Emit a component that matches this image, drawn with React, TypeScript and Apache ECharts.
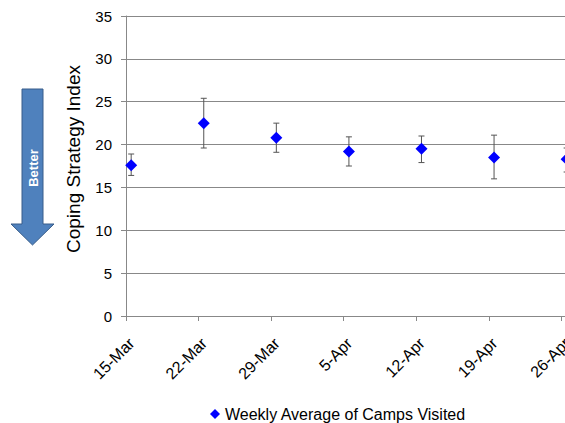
import React, { useEffect, useRef } from "react";
import * as echarts from "echarts";

const startDate = "2010-03-15T00:00:00Z";
const tickLabels = ["15-Mar", "22-Mar", "29-Mar", "5-Apr", "12-Apr", "19-Apr", "26-Apr"];
const obsDates = [
  "2010-03-15T12:00:00Z",
  "2010-03-22T12:00:00Z",
  "2010-03-29T12:00:00Z",
  "2010-04-05T12:00:00Z",
  "2010-04-12T12:00:00Z",
  "2010-04-19T12:00:00Z",
  "2010-04-26T12:00:00Z",
];
const means = [17.6, 22.5, 20.8, 19.2, 19.5, 18.5, 18.3];
const upper = [18.9, 25.4, 22.5, 20.9, 21.0, 21.1, 19.6];
const lower = [16.4, 19.6, 19.1, 17.5, 17.9, 16.0, 16.8];
const seriesName = "Weekly Average of Camps Visited";

const DAY = 86400000;
const dayOffset = (d: string) => (Date.parse(d) - Date.parse(startDate)) / DAY;

const FONT = "Liberation Sans";

export default function App() {
  const ref = useRef<HTMLDivElement>(null);
  useEffect(() => {
    if (!ref.current) return;
    const chart = echarts.init(ref.current, null, { renderer: "svg" });
    const xs = obsDates.map(dayOffset);
    const scatterData = xs.map((x, i) => [x, means[i]]);
    const errData = xs.map((x, i) => [x, lower[i], upper[i]]);
    const gridColor = "#888888";
    chart.setOption({
      animation: false,
      backgroundColor: "#ffffff",
      textStyle: { fontFamily: FONT },
      grid: {
        left: 126,
        top: 16,
        bottom: 107,
        right: -12,
        containLabel: false,
        outerBoundsMode: "none",
      },
      xAxis: {
        type: "value",
        min: 0,
        max: 43.5,
        interval: 7,
        axisLine: { show: true, onZero: false, lineStyle: { color: gridColor, width: 1 } },
        axisTick: { show: true, length: 5, lineStyle: { color: gridColor } },
        splitLine: { show: false },
        axisLabel: {
          rotate: 45,
          margin: 19,
          fontSize: 16,
          color: "#000",
          fontFamily: FONT,
          showMaxLabel: false,
          align: "right",
          verticalAlign: "top",
          formatter: (v: number) => {
            const idx = Math.round(v / 7);
            return Math.abs(v - idx * 7) < 1e-6 ? tickLabels[idx] ?? "" : "";
          },
        },
      },
      yAxis: {
        type: "value",
        min: 0,
        max: 35,
        interval: 5,
        name: "Coping Strategy Index",
        nameLocation: "middle",
        nameGap: 43,
        nameTextStyle: { fontSize: 19, color: "#000", fontFamily: FONT, padding: [0, 0, 0, 14] },
        axisLine: { show: true, lineStyle: { color: gridColor, width: 1 } },
        axisTick: { show: true, length: 5, lineStyle: { color: gridColor } },
        splitLine: { show: true, lineStyle: { color: gridColor, width: 1 } },
        axisLabel: { fontSize: 15, color: "#000", margin: 14, fontFamily: FONT },
      },
      legend: {
        show: true,
        left: 205,
        top: 401,
        icon: "diamond",
        itemWidth: 10,
        itemHeight: 10,
        itemGap: 4,
        textStyle: { fontSize: 16, color: "#000", fontFamily: FONT },
        data: [seriesName],
      },
      series: [
        {
          type: "custom",
          name: "err",
          z: 2,
          clip: false,
          data: errData,
          encode: { x: 0, y: [1, 2] },
          renderItem: (params: any, api: any) => {
            const x = api.value(0);
            const lo = api.coord([x, api.value(1)]);
            const hi = api.coord([x, api.value(2)]);
            const hw = 3;
            const style = { stroke: "#555555", lineWidth: 1 };
            return {
              type: "group",
              children: [
                { type: "line", shape: { x1: lo[0], y1: lo[1], x2: hi[0], y2: hi[1] }, style },
                { type: "line", shape: { x1: lo[0] - hw, y1: lo[1], x2: lo[0] + hw, y2: lo[1] }, style },
                { type: "line", shape: { x1: hi[0] - hw, y1: hi[1], x2: hi[0] + hw, y2: hi[1] }, style },
              ],
            };
          },
        },
        {
          type: "scatter",
          name: seriesName,
          z: 3,
          symbol: "diamond",
          symbolSize: 12,
          clip: false,
          itemStyle: { color: "#0000ff", opacity: 1 },
          data: scatterData,
        },
      ],
      graphic: [
        {
          type: "polygon",
          shape: {
            points: [
              [22, 89],
              [43, 89],
              [43, 224],
              [54, 224],
              [32.5, 245],
              [11, 224],
              [22, 224],
            ],
          },
          style: { fill: "#4f81bd", stroke: "#385d8a", lineWidth: 1 },
        },
        {
          type: "text",
          x: 33,
          y: 168,
          rotation: Math.PI / 2,
          style: {
            text: "Better",
            fill: "#ffffff",
            font: `bold 13px "${FONT}"`,
            align: "center",
            verticalAlign: "middle",
          },
        },
      ],
    });
    return () => chart.dispose();
  }, []);
  return (
    <div
      ref={ref}
      style={{ position: "fixed", left: 0, top: 0, width: 565, height: 423 }}
    />
  );
}
